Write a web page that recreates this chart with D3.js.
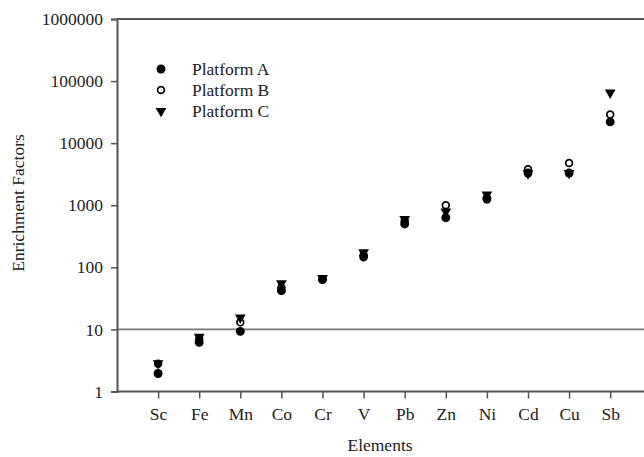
<!DOCTYPE html>
<html>
<head>
<meta charset="utf-8">
<script src="https://cdn.jsdelivr.net/npm/d3@7"></script>
<style>
  body { margin: 0; background: #fff; }
  svg { display: block; font-family: "Liberation Serif", "Times New Roman", serif; }
</style>
</head>
<body>
<script>
// elements along x
const elements = ["Sc","Fe","Mn","Co","Cr","V","Pb","Zn","Ni","Cd","Cu","Sb"]
// enrichment factors
const platformA = [1.95, 6.2, 9.3, 42, 64, 155, 500, 630, 1300, 3300, 3300, 22000]
const platformB = [2.8, 7.0, 13, 47, 63, 145, 560, 1000, 1240, 3800, 4800, 29000]
const platformC = [2.85, 7.6, 15.5, 55, 67, 175, 600, 790, 1490, 3250, 3300, 65000]
const yTicks = [1, 10, 100, 1000, 10000, 100000, 1000000]
const seriesNames = ["Platform A", "Platform B", "Platform C"]

const width = 644, height = 457
const margin = {top: 19, left: 117, bottom: 65}
const fontSize = 17.5

const svg = d3.select("body").append("svg")
    .attr("width", width)
    .attr("height", height)

const x = d3.scalePoint()
    .domain(elements)
    .range([margin.left, margin.left + 41.1*13])
    .padding(1)

const y = d3.scaleLog()
    .domain([1, 1000000])
    .range([height - margin.bottom - 0.5, margin.top])

const axisColor = "#555"
const textColor = "#222"

// reference line at 10
svg.append("line")
    .attr("x1", margin.left).attr("x2", width)
    .attr("y1", y(10)).attr("y2", y(10))
    .attr("stroke", "#777").attr("stroke-width", 1.6)

// top frame line
svg.append("line")
    .attr("x1", margin.left).attr("x2", width)
    .attr("y1", y(1000000)).attr("y2", y(1000000))
    .attr("stroke", axisColor).attr("stroke-width", 2)

const yAxis = svg.append("g")
    .attr("transform", `translate(${margin.left},0)`)
    .call(d3.axisLeft(y).tickValues(yTicks).tickFormat(d3.format("d")).tickSize(6).tickPadding(8))
yAxis.select(".domain").attr("stroke", axisColor).attr("stroke-width", 2)
yAxis.selectAll(".tick line").attr("stroke", axisColor).attr("stroke-width", 1.5)
yAxis.selectAll("text").attr("font-size", fontSize).attr("fill", textColor)
    .attr("font-family", "Liberation Serif, serif")

const xAxis = svg.append("g")
    .attr("transform", `translate(0,${y(1)})`)
    .call(d3.axisBottom(x).tickSize(7).tickSizeOuter(0).tickPadding(9))
xAxis.select(".domain").attr("d", `M${margin.left},0H${width}`)
    .attr("stroke", axisColor).attr("stroke-width", 2)
xAxis.selectAll(".tick line").attr("stroke", axisColor).attr("stroke-width", 1.5)
xAxis.selectAll("text").attr("font-size", fontSize).attr("fill", textColor)
    .attr("font-family", "Liberation Serif, serif")

// axis titles
svg.append("text")
    .attr("x", 380).attr("y", 451)
    .attr("text-anchor", "middle")
    .attr("font-size", fontSize).attr("fill", textColor)
    .text("Elements")

svg.append("text")
    .attr("transform", `translate(24,203) rotate(-90)`)
    .attr("text-anchor", "middle")
    .attr("font-size", fontSize).attr("fill", textColor)
    .text("Enrichment Factors")

// markers
const circleA = d3.symbol(d3.symbolCircle, 62)
const circleB = d3.symbol(d3.symbolCircle, 36)
const tri = d3.symbol(d3.symbolTriangle, 50)

const drawA = (g) => g.append("path").attr("d", circleA()).attr("fill", "#000")
const drawB = (g) => g.append("path").attr("d", circleB()).attr("fill", "#fff")
    .attr("stroke", "#000").attr("stroke-width", 1.7)
const drawC = (g) => g.append("path").attr("d", tri()).attr("fill", "#000")
    .attr("transform", "rotate(180)")
const drawers = [drawA, drawB, drawC]

const series = [platformA, platformB, platformC]
// B underneath, then A, triangles on top
;[1, 0, 2].forEach(si => {
    series[si].forEach((v, i) => {
        const g = svg.append("g")
            .attr("transform", `translate(${x(elements[i])},${y(v)})`)
        drawers[si](g)
    })
})

// legend
const legend = svg.append("g")
seriesNames.forEach((name, i) => {
    const ly = 69 + i*21
    const g = legend.append("g").attr("transform", `translate(161,${ly})`)
    drawers[i](g)
    legend.append("text")
        .attr("x", 192).attr("y", ly + 5.5)
        .attr("font-size", fontSize).attr("fill", textColor)
        .text(name)
})
</script>
</body>
</html>
